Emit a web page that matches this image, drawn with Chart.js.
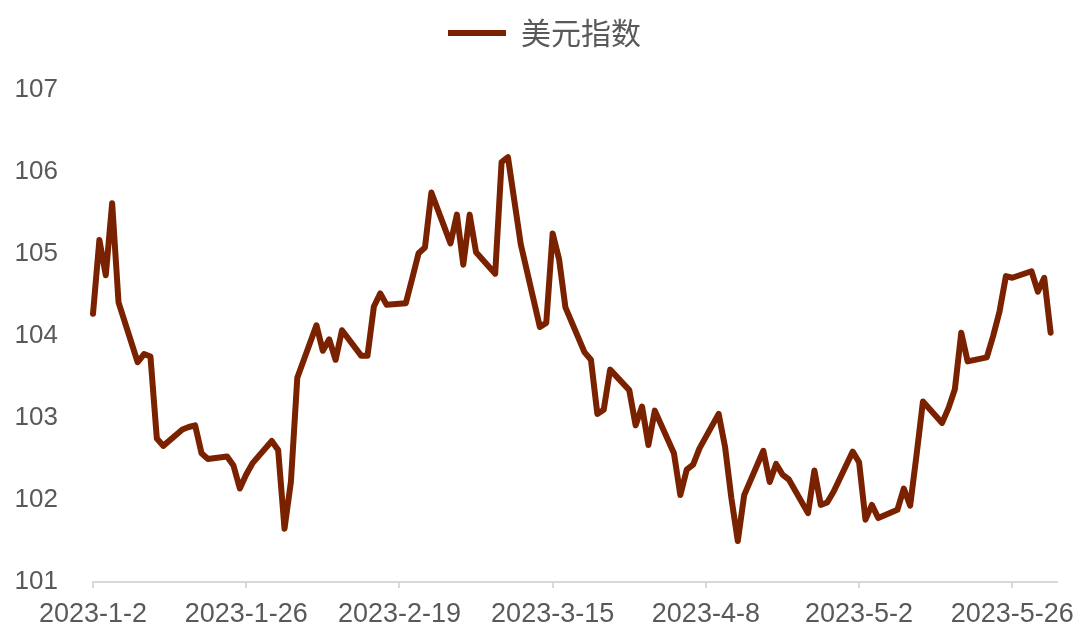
<!DOCTYPE html>
<html>
<head>
<meta charset="utf-8">
<script src="https://cdn.jsdelivr.net/npm/chart.js@4/dist/chart.umd.min.js"></script>
<style>
  html, body { margin: 0; padding: 0; background: #ffffff; }
  #wrap { width: 1080px; height: 644px; }
</style>
</head>
<body>
<div id="wrap"><canvas id="chart" width="1080" height="644"></canvas></div>
<script>
// trading days (2023) and index values
var dates = [
  '2023-01-02','2023-01-03','2023-01-04','2023-01-05','2023-01-06',
  '2023-01-09','2023-01-10','2023-01-11','2023-01-12','2023-01-13',
  '2023-01-16','2023-01-17','2023-01-18','2023-01-19','2023-01-20',
  '2023-01-23','2023-01-24','2023-01-25','2023-01-26','2023-01-27',
  '2023-01-30','2023-01-31','2023-02-01','2023-02-02','2023-02-03',
  '2023-02-06','2023-02-07','2023-02-08','2023-02-09','2023-02-10',
  '2023-02-13','2023-02-14','2023-02-15','2023-02-16','2023-02-17',
  '2023-02-20','2023-02-21','2023-02-22','2023-02-23','2023-02-24',
  '2023-02-27','2023-02-28','2023-03-01','2023-03-02','2023-03-03',
  '2023-03-06','2023-03-07','2023-03-08','2023-03-09','2023-03-10',
  '2023-03-13','2023-03-14','2023-03-15','2023-03-16','2023-03-17',
  '2023-03-20','2023-03-21','2023-03-22','2023-03-23','2023-03-24',
  '2023-03-27','2023-03-28','2023-03-29','2023-03-30','2023-03-31',
  '2023-04-03','2023-04-04','2023-04-05','2023-04-06','2023-04-07',
  '2023-04-10','2023-04-11','2023-04-12','2023-04-13','2023-04-14',
  '2023-04-17','2023-04-18','2023-04-19','2023-04-20','2023-04-21',
  '2023-04-24','2023-04-25','2023-04-26','2023-04-27','2023-04-28',
  '2023-05-01','2023-05-02','2023-05-03','2023-05-04','2023-05-05',
  '2023-05-08','2023-05-09','2023-05-10','2023-05-11','2023-05-12',
  '2023-05-15','2023-05-16','2023-05-17','2023-05-18','2023-05-19',
  '2023-05-22','2023-05-23','2023-05-24','2023-05-25','2023-05-26',
  '2023-05-29','2023-05-30','2023-05-31','2023-06-01'
];
var dxy = [
  104.27, 105.17, 104.74, 105.62, 104.41,
  103.68, 103.78, 103.75, 102.75, 102.66,
  102.86, 102.89, 102.91, 102.57, 102.50,
  102.53, 102.42, 102.14, 102.31, 102.45,
  102.72, 102.61, 101.65, 102.22, 103.49,
  104.13, 103.82, 103.96, 103.71, 104.07,
  103.76, 103.76, 104.36, 104.52, 104.38,
  104.40, 104.70, 105.01, 105.08, 105.75,
  105.13, 105.48, 104.87, 105.48, 105.02,
  104.76, 106.12, 106.18, 105.65, 105.12,
  104.11, 104.16, 105.25, 104.94, 104.35,
  103.80, 103.71, 103.05, 103.10, 103.59,
  103.34, 102.91, 103.14, 102.67, 103.09,
  102.57, 102.06, 102.37, 102.43, 102.63,
  103.05, 102.65, 102.02, 101.50, 102.06,
  102.60, 102.22, 102.44, 102.31, 102.25,
  101.84, 102.36, 101.94, 101.97, 102.10,
  102.59, 102.46, 101.76, 101.94, 101.78,
  101.88, 102.14, 101.93, 102.55, 103.20,
  102.94, 103.12, 103.35, 104.04, 103.69,
  103.74, 104.00, 104.30, 104.73, 104.71,
  104.79, 104.54, 104.71, 104.04
];
// x-axis tick dates (every 24 days) and y-axis ticks
var xTickDates = ['2023-01-02','2023-01-26','2023-02-19','2023-03-15','2023-04-08','2023-05-02','2023-05-26'];
var yTicks = [101, 102, 103, 104, 105, 106, 107];
var axisEndDate = '2023-06-02';

var DAY = 86400000;
var start = Date.parse(dates[0] + 'T00:00:00Z');
function dayOf(s) { return Math.round((Date.parse(s + 'T00:00:00Z') - start) / DAY); }
function labelOf(d) {
  var t = new Date(start + d * DAY);
  return t.getUTCFullYear() + '-' + (t.getUTCMonth() + 1) + '-' + t.getUTCDate();
}

var points = dates.map(function (d, i) { return { x: dayOf(d), y: dxy[i] }; });
var xTickDays = xTickDates.map(dayOf);

var grey = '#595959';
var lineColor = '#7a2100';

// legend takes the top 90px, nudged right like the original
var legendSpace = {
  id: 'legendSpace',
  beforeInit: function (chart) {
    var lg = chart.legend;
    var fit = lg.fit;
    lg.fit = function () {
      fit.bind(lg)();
      this.height = 90;
    };
    var draw = lg.draw;
    lg.draw = function () {
      var ctx = chart.ctx;
      ctx.save();
      ctx.translate(16, 2);
      draw.bind(lg)();
      ctx.restore();
    };
  }
};

new Chart(document.getElementById('chart'), {
  type: 'line',
  data: {
    datasets: [{
      label: '美元指数',
      data: points,
      borderColor: lineColor,
      backgroundColor: lineColor,
      borderWidth: 6,
      borderCapStyle: 'round',
      borderJoinStyle: 'round',
      pointRadius: 0,
      pointHoverRadius: 0,
      tension: 0,
      fill: false,
      clip: false
    }]
  },
  options: {
    responsive: false,
    animation: false,
    layout: { padding: { left: 0, right: 23, top: 0, bottom: 0 } },
    plugins: {
      tooltip: { enabled: false },
      legend: {
        display: true,
        position: 'top',
        labels: {
          usePointStyle: true,
          pointStyle: 'line',
          pointStyleWidth: 58,
          boxHeight: 6,
          padding: 16,
          color: grey,
          font: { family: '"Noto Sans CJK SC", "Liberation Sans", sans-serif', size: 30 }
        }
      }
    },
    scales: {
      x: {
        type: 'linear',
        min: 0,
        max: dayOf(axisEndDate),
        afterBuildTicks: function (scale) {
          scale.ticks = xTickDays.map(function (v) { return { value: v }; });
        },
        afterFit: function (scale) {
          scale.height = 62;
          scale.paddingLeft = 0;
          scale.paddingRight = 0;
        },
        ticks: {
          autoSkip: false,
          maxRotation: 0,
          padding: 10,
          color: grey,
          font: { family: '"Liberation Sans", Arial, sans-serif', size: 27 },
          callback: function (v) { return labelOf(v); }
        },
        grid: {
          drawOnChartArea: false,
          drawTicks: true,
          tickLength: 6,
          color: '#d9d9d9',
          lineWidth: 2
        },
        border: { display: true, color: '#d9d9d9', width: 2 }
      },
      y: {
        min: yTicks[0],
        max: yTicks[yTicks.length - 1],
        afterBuildTicks: function (scale) {
          scale.ticks = yTicks.map(function (v) { return { value: v }; });
        },
        afterFit: function (scale) { scale.width = 93; },
        ticks: {
          padding: 35,
          color: grey,
          font: { family: '"Liberation Sans", Arial, sans-serif', size: 26 }
        },
        grid: { display: false, drawTicks: false },
        border: { display: false }
      }
    }
  },
  plugins: [legendSpace]
});
</script>
</body>
</html>
